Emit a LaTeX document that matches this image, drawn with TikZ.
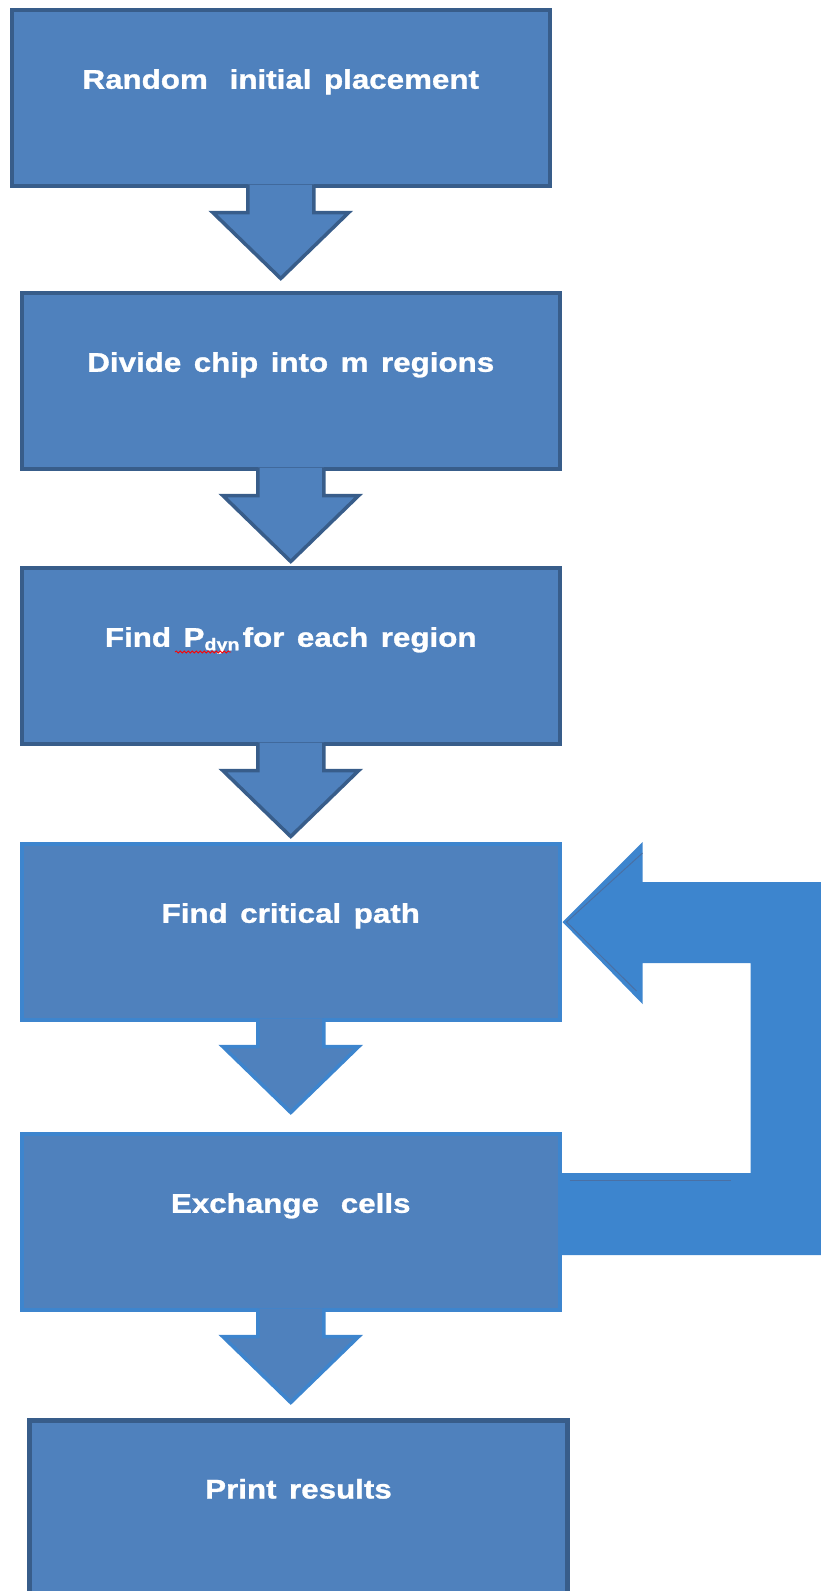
\documentclass[tikz,border=0pt]{standalone}
\usepackage{fontspec}
\usepackage{graphicx}
\setmainfont{Liberation Sans}
\newfontfamily\stepface{Liberation Sans Bold}[FakeBold=1]
\usetikzlibrary{calc,decorations.pathmorphing}

\definecolor{boxfill}{HTML}{4F81BD}
\definecolor{boxline}{HTML}{385D8A}
\definecolor{loopblue}{HTML}{3D85CE}
\definecolor{seam}{HTML}{4A70A4}

\newlength\stepspace
\newcommand\stepfont{\stepface\fontsize{27}{27}\selectfont
  \setlength\stepspace{0.4em}\spaceskip=\stepspace}
% step labels are set in a slightly widened face
\newcommand\wide[1]{\scalebox{1.16}[1]{#1}}

\tikzset{
  stepbox/.style={rectangle, draw=boxline, line width=3.5pt, fill=boxfill,
    inner sep=0pt, minimum width=538pt, text height=79pt, text depth=97pt,
    anchor=north west, text=white, font=\stepfont},
  brightbox/.style={stepbox, draw=loopblue},
  downarrow/.style={fill=boxfill, draw=boxline, line width=3.5pt, line join=miter},
  brightarrow/.style={downarrow, draw=loopblue},
  seamline/.style={draw=seam, line width=1pt},
}

% block arrow hanging below the bottom edge of a box
\newcommand\hangarrow[2][downarrow]{%
  \filldraw[#1]
    ($(#2.south)+(-33,-3)$) -- ($(#2.south)+(-33,25)$) --
    ($(#2.south)+(-68,25)$) -- ($(#2.south)+(0,91)$) --
    ($(#2.south)+(68,25)$) -- ($(#2.south)+(33,25)$) --
    ($(#2.south)+(33,-3)$);}

\begin{document}
\begin{tikzpicture}[x=1pt, y=-1pt]
  \useasboundingbox (0,0) rectangle (821,1591);
  \clip (0,0) rectangle (821,1591);

  % process steps
  \node[stepbox] (b1) at (10,8) {\wide{Random\hspace{0.3em} initial placement}};
  \node[stepbox] (b2) at (20,291) {\wide{Divide chip into m regions}};
  \node[stepbox] (b3) at (20,566)
    {\wide{Find P\raisebox{-3.5pt}{\fontsize{17}{17}\selectfont dyn}\hspace{0.1em}for each region}};
  \node[brightbox] (b4) at (20,842) {\wide{Find critical path}};
  \node[brightbox] (b5) at (20,1132) {\wide{Exchange\hspace{0.3em} cells}};
  \node[stepbox, line width=5pt, text height=78pt, text depth=140pt] (b6) at (27,1418)
    {\wide{Print results}};

  % spell-check mark under the subscript
  \draw[red, line width=0.8pt, decorate,
        decoration={snake, amplitude=1pt, segment length=4pt}]
    ($(b3.north west)+(155,86)$) -- ($(b3.north west)+(211,86)$);

  % arrows between consecutive steps
  \hangarrow{b1}
  \hangarrow{b2}
  \hangarrow{b3}
  \hangarrow[brightarrow]{b4}
  \hangarrow[brightarrow]{b5}

  % loop back from exchanging cells to the critical path search
  \fill[loopblue]
    ($(b5.north east)+(0,41)$) -- ($(b5.north east)+(189,41)$) --
    ($(b4.north east)+(189,121)$) -- ($(b4.north east)+(81,121)$) --
    ($(b4.north east)+(81,162)$) -- ($(b4.north east)+(1,80)$) --
    ($(b4.north east)+(81,0)$) -- ($(b4.north east)+(81,40)$) --
    ($(b4.north east)+(280,40)$) -- ($(b5.north east)+(280,123)$) --
    ($(b5.north east)+(0,123)$) -- cycle;
  \draw[seamline] ($(b4.north east)+(81,11)$) -- ($(b4.north east)+(5,80)$)
                  -- ($(b4.north east)+(75,149)$);
  \draw[seamline] ($(b5.north east)+(8,48)$) -- ($(b5.north east)+(169,48)$);
\end{tikzpicture}
\end{document}
